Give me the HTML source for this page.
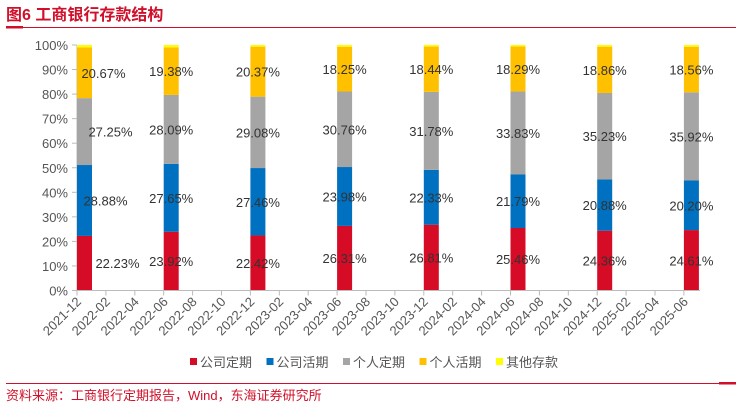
<!DOCTYPE html>
<html><head><meta charset="utf-8"><style>
body{margin:0;background:#fff;width:736px;height:409px;overflow:hidden;font-family:"Liberation Sans","Noto Sans CJK SC",sans-serif}
</style></head><body>
<svg width="736" height="409" xmlns="http://www.w3.org/2000/svg">
<text x="6" y="20" font-size="16" font-weight="bold" fill="#d0102a" font-family="Liberation Sans,Noto Sans CJK SC,sans-serif">图6  工商银行存款结构</text>
<rect x="6" y="26" width="17" height="2.5" fill="#d0102a"/>
<line x1="6" y1="27.5" x2="736" y2="27.5" stroke="#d0102a" stroke-width="1"/>
<g id="plot"></g>
<g id="legend" font-size="13" fill="#555"></g>
<line x1="6" y1="383.5" x2="730" y2="383.5" stroke="#d0102a" stroke-width="1"/>
<rect x="719" y="382" width="17" height="2.5" fill="#d0102a"/>
<text x="6" y="400" font-size="13" fill="#d0102a">资料来源：工商银行定期报告，Wind，东海证券研究所</text>
</svg>
<script>
const tickLabels=["2021-12","2022-02","2022-04","2022-06","2022-08","2022-10","2022-12","2023-02","2023-04","2023-06","2023-08","2023-10","2023-12","2024-02","2024-04","2024-06","2024-08","2024-10","2024-12","2025-02","2025-04","2025-06"];
const categories=["2021-12","2022-06","2022-12","2023-06","2023-12","2024-06","2024-12","2025-06"];
const seriesNames=["公司定期","公司活期","个人定期","个人活期","其他存款"];
const corpTime=[22.23,23.92,22.42,26.31,26.81,25.46,24.36,24.61];
const corpDemand=[28.88,27.65,27.46,23.98,22.33,21.79,20.88,20.20];
const persTime=[27.25,28.09,29.08,30.76,31.78,33.83,35.23,35.92];
const persDemand=[20.67,19.38,20.37,18.25,18.44,18.29,18.86,18.56];
const other=[0.97,0.96,0.67,0.70,0.64,0.63,0.67,0.71];
const yTicks=[0,10,20,30,40,50,60,70,80,90,100];
const colors=["#d60b26","#0070c0","#a5a5a5","#ffc000","#ffff00"];
const NS="http://www.w3.org/2000/svg";
const plot=document.getElementById('plot');
const x0=77,x1=700,step=28.9,yb=290.5,yt=45,bw=15;
const y=v=>yb-(v/100)*(yb-yt);
const xt=i=>x0+i*step;
function mk(t,a){const e=document.createElementNS(NS,t);for(const k in a)e.setAttribute(k,a[k]);return e;}
yTicks.forEach(v=>{
 const l=mk('line',{x1:x0-5,x2:x0,y1:y(v),y2:y(v),stroke:'#bbb'});
 
 
 plot.appendChild(l);
 const t=mk('text',{x:x0-9,y:y(v)+5,'text-anchor':'end','font-size':13,fill:'#555'});
 t.textContent=v+'%';
 
 
 plot.appendChild(t);
});
const ya=mk('line',{x1:x0,x2:x0,y1:yt,y2:yb,stroke:'#bbb'});


plot.appendChild(ya);
const series=[corpTime,corpDemand,persTime,persDemand,other];
categories.forEach((c,i)=>{
 const ti=tickLabels.indexOf(c);const bx=xt(ti);
 let acc=0;
 series.forEach((s,k)=>{
  const v=s[i];
  const r=mk('rect',{x:bx,y:y(acc+v),width:bw,height:y(acc)-y(acc+v),fill:colors[k]});
  
  
  plot.appendChild(r);
  if(k<4){
   let lx=bx+bw/2;
   if(i===0){lx+=[33,21,26,19][k];}
   const t=mk('text',{x:lx,y:y(acc+v/2)+5,'text-anchor':'middle','font-size':13,fill:'#333'});
   t.textContent=v.toFixed(2)+'%';
   
   
   plot.appendChild(t);
  }
  acc+=v;
 });
});
const xa=mk('line',{x1:x0,x2:x1,y1:yb,y2:yb,stroke:'#bbb'});


plot.appendChild(xa);
tickLabels.forEach((lab,i)=>{
 const tx=xt(i);
 const l=mk('line',{x1:tx,x2:tx,y1:yb,y2:yb+5,stroke:'#bbb'});
 
 
 plot.appendChild(l);
 const t=mk('text',{x:tx+5,y:yb+12,'text-anchor':'end','font-size':13,fill:'#555',transform:`rotate(-45 ${tx+5} ${yb+12})`});
 t.textContent=lab;
 
 
 plot.appendChild(t);
});
const lg=document.getElementById('legend');
seriesNames.forEach((n,k)=>{
 const lx=190+k*76.5;
 const r=mk('rect',{x:lx,y:358,width:7,height:7,fill:colors[k]});
 
 
 lg.appendChild(r);
 const t=mk('text',{x:lx+10,y:367});
 t.textContent=n;
 
 
 lg.appendChild(t);
});
</script>
</body></html>
